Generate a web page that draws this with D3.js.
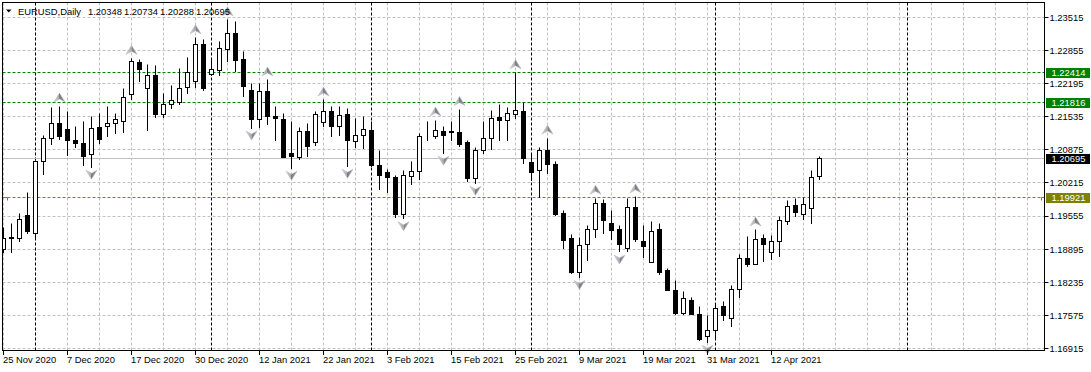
<!DOCTYPE html>
<html>
<head>
<meta charset="utf-8">
<script src="https://cdn.jsdelivr.net/npm/d3@7"></script>
<style>
  html, body { margin: 0; padding: 0; background: #fff; }
  svg { display: block; }
  text { font-family: "Liberation Sans", Arial, sans-serif; font-size: 9.4px; fill: #000; }
</style>
</head>
<body>
<div id="chart"></div>
<script>
// EURUSD daily bars, bar 0 = 25 Nov 2020 ... bar 102 = 20 Apr 2021
const opens = [
  1.1888, 1.1913, 1.1911, 1.1956, 1.1921, 1.2064, 1.2111, 1.2140, 1.2129, 1.2107,
  1.2101, 1.2079, 1.2133, 1.2134, 1.2141, 1.2145, 1.2197, 1.2262, 1.2210, 1.2235,
  1.2159, 1.2179, 1.2182, 1.2212, 1.2223, 1.2297, 1.2237, 1.2245, 1.2288, 1.2319,
  1.2268, 1.2206, 1.2149, 1.2203, 1.2155, 1.2149, 1.2081, 1.2073, 1.2125, 1.2102,
  1.2143, 1.2164, 1.2135, 1.2159, 1.2104, 1.2117, 1.2127, 1.2057, 1.2042, 1.2033,
  1.1958, 1.2034, 1.2044, 1.2114, 1.2115, 1.2124, 1.2124, 1.2122, 1.2103, 1.2031,
  1.2087, 1.2111, 1.2152, 1.2146, 1.2159, 1.2164, 1.2062, 1.2047, 1.2086, 1.2059,
  1.1961, 1.1911, 1.1843, 1.1898, 1.1928, 1.1981, 1.1940, 1.1928, 1.1891, 1.1973,
  1.1904, 1.1863, 1.1929, 1.1848, 1.1808, 1.1762, 1.1788, 1.1760, 1.1715, 1.1728,
  1.1775, 1.1752, 1.1810, 1.1871, 1.1859, 1.1911, 1.1883, 1.1904, 1.1944, 1.1976,
  1.1959, 1.1971, 1.20348
];
const highs = [
  1.1932, 1.1940, 1.1961, 1.2002, 1.2067, 1.2117, 1.2172, 1.2175, 1.2165, 1.2134,
  1.2144, 1.2154, 1.2160, 1.2175, 1.2160, 1.2210, 1.2270, 1.2267, 1.2257, 1.2255,
  1.2199, 1.2215, 1.2250, 1.2272, 1.2311, 1.2307, 1.2267, 1.2303, 1.2347, 1.2343,
  1.2283, 1.2220, 1.2220, 1.2227, 1.2175, 1.2160, 1.2144, 1.2133, 1.2141, 1.2164,
  1.2187, 1.2175, 1.2175, 1.2171, 1.2151, 1.2154, 1.2145, 1.2087, 1.2049, 1.2037,
  1.2047, 1.2064, 1.2121, 1.2144, 1.2147, 1.2134, 1.2144, 1.2168, 1.2107, 1.2093,
  1.2144, 1.2167, 1.2179, 1.2172, 1.22414, 1.21816, 1.2081, 1.2093, 1.2111, 1.2064,
  1.1966, 1.1918, 1.1913, 1.1936, 1.1991, 1.1988, 1.1966, 1.1936, 1.1991, 1.1994,
  1.1936, 1.1944, 1.1940, 1.1851, 1.1828, 1.1805, 1.1794, 1.1775, 1.1758, 1.1780,
  1.1785, 1.1818, 1.1878, 1.1914, 1.1928, 1.1918, 1.1916, 1.1954, 1.1986, 1.1991,
  1.1993, 1.2047, 1.20734
];
const lows = [
  1.1882, 1.1882, 1.1904, 1.1920, 1.1912, 1.2039, 1.2099, 1.2109, 1.2077, 1.2092,
  1.2056, 1.2053, 1.2101, 1.2114, 1.2121, 1.2123, 1.2188, 1.2223, 1.2127, 1.2152,
  1.2152, 1.2170, 1.2179, 1.2200, 1.2212, 1.2206, 1.2235, 1.2235, 1.2263, 1.2243,
  1.2193, 1.2131, 1.2133, 1.2139, 1.2107, 1.2072, 1.2051, 1.2069, 1.2074, 1.2097,
  1.2135, 1.2114, 1.2117, 1.2055, 1.2093, 1.2091, 1.2055, 1.2008, 1.2002, 1.1953,
  1.1950, 1.2018, 1.2029, 1.2107, 1.2111, 1.2081, 1.2107, 1.2095, 1.2025, 1.2021,
  1.2081, 1.2089, 1.2107, 1.2107, 1.2151, 1.2061, 1.2027, 1.19921, 1.2041, 1.1957,
  1.1891, 1.1842, 1.1833, 1.1867, 1.1913, 1.1921, 1.1908, 1.1884, 1.1885, 1.1904,
  1.1873, 1.1862, 1.1840, 1.1807, 1.1760, 1.1760, 1.1759, 1.1708, 1.1704, 1.1712,
  1.1748, 1.1736, 1.1794, 1.1855, 1.1858, 1.1865, 1.1868, 1.1875, 1.1938, 1.1954,
  1.1949, 1.1941, 1.20288
];
const closes = [
  1.1910, 1.1910, 1.1949, 1.1924, 1.2064, 1.2111, 1.2141, 1.2115, 1.2106, 1.2101,
  1.2074, 1.2131, 1.2109, 1.2141, 1.2149, 1.2192, 1.2263, 1.2248, 1.2235, 1.2158,
  1.2179, 1.2186, 1.2210, 1.2242, 1.2297, 1.2210, 1.2248, 1.2290, 1.2319, 1.2265,
  1.2214, 1.2149, 1.2203, 1.2154, 1.2150, 1.2073, 1.2075, 1.2125, 1.2094, 1.2159,
  1.2164, 1.2135, 1.2157, 1.2106, 1.2117, 1.2129, 1.2056, 1.2037, 1.2033, 1.1958,
  1.2037, 1.2044, 1.2115, 1.2115, 1.2127, 1.2117, 1.2122, 1.2099, 1.2031, 1.2087,
  1.2111, 1.2151, 1.2147, 1.2160, 1.2166, 1.2071, 1.2042, 1.2086, 1.2059, 1.1958,
  1.1906, 1.1843, 1.1896, 1.1928, 1.1981, 1.1946, 1.1926, 1.1898, 1.1973, 1.1909,
  1.1894, 1.1924, 1.1843, 1.1808, 1.1762, 1.1792, 1.1760, 1.1710, 1.1727, 1.1772,
  1.1758, 1.1810, 1.1871, 1.1859, 1.1909, 1.1898, 1.1904, 1.1946, 1.1974, 1.1962,
  1.1979, 1.2033, 1.20695
];

const timeLabels = ["25 Nov 2020", "7 Dec 2020", "17 Dec 2020", "30 Dec 2020", "12 Jan 2021",
  "22 Jan 2021", "3 Feb 2021", "15 Feb 2021", "25 Feb 2021", "9 Mar 2021", "19 Mar 2021",
  "31 Mar 2021", "12 Apr 2021"];
const labelStep = 8;     // one time label every 8 bars
const gridStep = 4;      // one vertical grid line every 4 bars
const lastBarSlot = 130; // right edge of the chart, in bars
const priceTicks = [1.23515, 1.22855, 1.22195, 1.21535, 1.20875, 1.20215, 1.19555,
  1.18895, 1.18235, 1.17575, 1.16915];
const separatorBars = [4, 26, 46, 66, 89, 113];  // first bar of each month
const fractalUpBars = [7, 16, 24, 28, 33, 40, 54, 57, 64, 68, 74, 79, 94];
const fractalDownBars = [11, 31, 36, 43, 50, 55, 59, 72, 77, 88];
const levelPrices = [1.22414, 1.21816, 1.19921];
const levelColors = ["#008000", "#008000", "#808000"];
const symbol = "EURUSD,Daily";

const W = 1091, H = 372;
const L = 2.5, R = 1044.5, T = 2.5, B = 350.5;

const xScale = d3.scaleLinear().domain([0, lastBarSlot]).range([3.5, 1043.5]);
const yScale = d3.scaleLinear().domain([1.16915, 1.23515]).range([348.5, 17.5]);
const crisp = v => Math.round(v - 0.5) + 0.5;

const svg = d3.select("#chart").append("svg")
  .attr("width", W).attr("height", H);

svg.append("defs").append("clipPath").attr("id", "plot")
  .append("rect").attr("x", 3).attr("y", 3).attr("width", R - 3.5).attr("height", B - 3.5);

// grid
const gridBars = d3.range(0, lastBarSlot + 1, gridStep);
svg.append("g").selectAll("line").data(gridBars).join("line")
  .attr("x1", d => xScale(d)).attr("x2", d => xScale(d))
  .attr("y1", T).attr("y2", B)
  .attr("stroke", "#c0c0c0").attr("stroke-dasharray", "3,2");
svg.append("g").selectAll("line").data(priceTicks).join("line")
  .attr("x1", L).attr("x2", R)
  .attr("y1", d => crisp(yScale(d))).attr("y2", d => crisp(yScale(d)))
  .attr("stroke", "#c0c0c0").attr("stroke-dasharray", "3,2");

// period separators
svg.append("g").selectAll("line").data(separatorBars).join("line")
  .attr("x1", d => xScale(d)).attr("x2", d => xScale(d))
  .attr("y1", T).attr("y2", B)
  .attr("stroke", "#000").attr("stroke-dasharray", "3,2");

// horizontal lines + bid line
const last = closes.length - 1;
svg.append("line")
  .attr("x1", L).attr("x2", R)
  .attr("y1", crisp(yScale(closes[last]))).attr("y2", crisp(yScale(closes[last])))
  .attr("stroke", "#c0c0c0");
svg.append("g").selectAll("line").data(levelPrices).join("line")
  .attr("x1", L).attr("x2", R)
  .attr("y1", d => crisp(yScale(d))).attr("y2", d => crisp(yScale(d)))
  .attr("stroke", (d, i) => levelColors[i]).attr("stroke-dasharray", "3,2");

// small anchors on the olive line ends
const oy = crisp(yScale(levelPrices[2]));
svg.append("path").attr("d", `M3,${oy}H7.5V${oy + 3}M1041.5,${oy + 3}V${oy}H1044`)
  .attr("fill", "none").attr("stroke", levelColors[2]);

// candles
const bars = svg.append("g").attr("clip-path", "url(#plot)");
const idx = d3.range(opens.length);
bars.selectAll("line").data(idx).join("line")
  .attr("x1", i => xScale(i)).attr("x2", i => xScale(i))
  .attr("y1", i => crisp(yScale(highs[i]))).attr("y2", i => crisp(yScale(lows[i])) + 0.5)
  .attr("stroke", "#000");
bars.selectAll("rect").data(idx).join("rect")
  .attr("x", i => xScale(i) - 2)
  .attr("width", 4)
  .attr("y", i => crisp(yScale(Math.max(opens[i], closes[i]))))
  .attr("height", i => Math.max(0, crisp(yScale(Math.min(opens[i], closes[i]))) - crisp(yScale(Math.max(opens[i], closes[i])))))
  .attr("fill", i => closes[i] >= opens[i] ? "#fff" : "#000")
  .attr("stroke", "#000");

// fractal arrows
const grad = svg.select("defs").append("linearGradient").attr("id", "arr")
  .attr("x1", "0").attr("x2", "1").attr("y1", "0").attr("y2", "0");
grad.append("stop").attr("offset", "0").attr("stop-color", "#d6d6d6");
grad.append("stop").attr("offset", "0.5").attr("stop-color", "#a8a8a8");
grad.append("stop").attr("offset", "0.5").attr("stop-color", "#7c7c7c");
grad.append("stop").attr("offset", "1").attr("stop-color", "#9a9a9a");

const upPath = (cx, yb) => `M${cx},${yb - 9}L${cx + 5.5},${yb}L${cx},${yb - 3}L${cx - 5.5},${yb}Z`;
const downPath = (cx, yt) => `M${cx},${yt + 9}L${cx + 5.5},${yt}L${cx},${yt + 3}L${cx - 5.5},${yt}Z`;
svg.append("g").selectAll("path").data(fractalUpBars).join("path")
  .attr("d", i => upPath(xScale(i), yScale(highs[i]) - 4))
  .attr("fill", "url(#arr)").attr("stroke", "#b4bccc").attr("stroke-width", 0.6);
svg.append("g").selectAll("path").data(fractalDownBars).join("path")
  .attr("d", i => downPath(xScale(i), yScale(lows[i]) + 3))
  .attr("fill", "url(#arr)").attr("stroke", "#b4bccc").attr("stroke-width", 0.6);

// frame
svg.append("rect").attr("x", L).attr("y", T).attr("width", R - L).attr("height", B - L)
  .attr("fill", "none").attr("stroke", "#000");

// price axis
const py = svg.append("g");
py.selectAll("line").data(priceTicks).join("line")
  .attr("x1", R).attr("x2", R + 4)
  .attr("y1", d => crisp(yScale(d))).attr("y2", d => crisp(yScale(d)))
  .attr("stroke", "#000");
py.selectAll("text").data(priceTicks).join("text")
  .attr("x", 1049.5).attr("y", d => yScale(d) + 3.3)
  .text(d => d.toFixed(5));

// price tags for lines
const tagPrices = levelPrices.concat([closes[last]]);
const tagColors = levelColors.concat(["#000"]);
const tags = svg.append("g").selectAll("g").data(tagPrices).join("g");
tags.append("rect")
  .attr("x", 1046).attr("width", 44)
  .attr("y", d => Math.round(yScale(d)) - 5).attr("height", 10)
  .attr("fill", (d, i) => tagColors[i]);
tags.append("text")
  .attr("x", 1051.5).attr("y", d => yScale(d) + 3.3)
  .style("fill", "#fff")
  .text(d => d.toFixed(5));

// time axis
const tx = svg.append("g");
tx.selectAll("line").data(timeLabels).join("line")
  .attr("x1", (d, i) => xScale(i * labelStep)).attr("x2", (d, i) => xScale(i * labelStep))
  .attr("y1", B).attr("y2", B + 4.5)
  .attr("stroke", "#000");
tx.selectAll("text").data(timeLabels).join("text")
  .attr("x", (d, i) => xScale(i * labelStep) - 0.5).attr("y", 363.3)
  .text(d => d);

// title
svg.append("path").attr("d", "M6,9.5L11.5,9.5L8.75,12.5Z").attr("fill", "#000");
svg.append("text").attr("x", 18).attr("y", 15).text(symbol);
const titleValues = [opens[last], highs[last], lows[last], closes[last]];
svg.append("g").selectAll("text").data(titleValues).join("text")
  .attr("x", (d, i) => 88 + i * 36).attr("y", 15)
  .text(d => d.toFixed(5));
</script>
</body>
</html>
